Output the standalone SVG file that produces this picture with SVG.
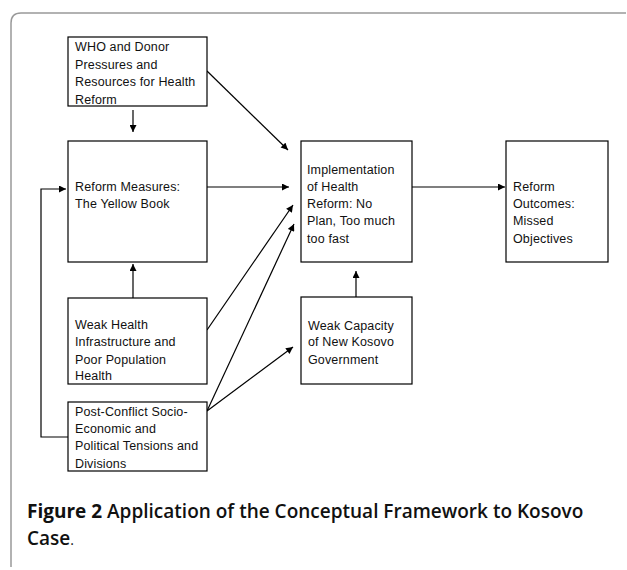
<svg xmlns="http://www.w3.org/2000/svg" width="627" height="570" viewBox="0 0 627 570">
<defs>
<marker id="ah" viewBox="0 0 10 10" refX="10" refY="5" markerWidth="8" markerHeight="7" markerUnits="userSpaceOnUse" orient="auto">
<path d="M0,0 L10,5 L0,10 z" fill="#000"/>
</marker>
<style>
.box{fill:#fff;stroke:#000;stroke-width:1.2}
.t{font-family:"Liberation Sans",Arial,sans-serif;font-size:12.5px;letter-spacing:0.15px;fill:#111}
.c{stroke:#000;stroke-width:1.2;fill:none;marker-end:url(#ah)}
.cap{font-family:"Open Sans","Liberation Sans",sans-serif;font-size:19px;fill:#111}
</style>
</defs>
<rect width="627" height="570" fill="#fff"/>
<path d="M626 13 H21 Q11 13 11 23 V567" fill="none" stroke="#999" stroke-width="1.5"/>
<g id="connectors">
<line class="c" x1="133" y1="110" x2="133" y2="132"/>
<line class="c" x1="207" y1="71" x2="288" y2="150"/>
<line class="c" x1="207" y1="187" x2="289" y2="187"/>
<line class="c" x1="207" y1="330" x2="293" y2="205"/>
<line class="c" x1="207" y1="411" x2="294" y2="224"/>
<line class="c" x1="207" y1="411" x2="293" y2="347"/>
<line class="c" x1="133" y1="298" x2="133" y2="264"/>
<line class="c" x1="356" y1="297" x2="356" y2="271"/>
<line class="c" x1="412" y1="187" x2="505" y2="187"/>
<path class="c" d="M68 437 H41 V189 H66"/>
</g>
<g id="who">
<rect class="box" x="68" y="37" width="139" height="69"/>
<text class="t" x="75" y="51">WHO and Donor</text>
<text class="t" x="75" y="68.5">Pressures and</text>
<text class="t" x="75" y="86">Resources for Health</text>
<text class="t" x="75" y="103.5">Reform</text>
</g>
<g id="measures">
<rect class="box" x="68" y="141" width="139" height="121"/>
<text class="t" x="75" y="191">Reform Measures:</text>
<text class="t" x="75" y="207.5">The Yellow Book</text>
</g>
<g id="implementation">
<rect class="box" x="301" y="141" width="111" height="121"/>
<text class="t" x="307" y="174">Implementation</text>
<text class="t" x="307" y="191">of Health</text>
<text class="t" x="307" y="207.5">Reform: No</text>
<text class="t" x="307" y="224.5">Plan, Too much</text>
<text class="t" x="307" y="242.5">too fast</text>
</g>
<g id="outcomes">
<rect class="box" x="506" y="141" width="102" height="121"/>
<text class="t" x="513" y="191">Reform</text>
<text class="t" x="513" y="207.5">Outcomes:</text>
<text class="t" x="513" y="224.5">Missed</text>
<text class="t" x="513" y="242.5">Objectives</text>
</g>
<g id="infrastructure">
<rect class="box" x="68" y="298" width="139" height="86"/>
<text class="t" x="75" y="328.5">Weak Health</text>
<text class="t" x="75" y="346">Infrastructure and</text>
<text class="t" x="75" y="363.5">Poor Population</text>
<text class="t" x="75" y="380">Health</text>
</g>
<g id="postconflict">
<rect class="box" x="68" y="402" width="139" height="69"/>
<text class="t" x="75" y="416">Post-Conflict Socio-</text>
<text class="t" x="75" y="432.5">Economic and</text>
<text class="t" x="75" y="450">Political Tensions and</text>
<text class="t" x="75" y="467.5">Divisions</text>
</g>
<g id="capacity">
<rect class="box" x="301" y="297" width="111" height="87"/>
<text class="t" x="308" y="329.5">Weak Capacity</text>
<text class="t" x="308" y="346">of New Kosovo</text>
<text class="t" x="308" y="363.5">Government</text>
</g>
<g id="caption">
<text class="cap" x="27" y="518"><tspan font-weight="700">Figure 2</tspan><tspan font-weight="600"> Application of the Conceptual Framework to Kosovo</tspan></text>
<text class="cap" x="27" y="545"><tspan font-weight="600">Case</tspan><tspan font-weight="400" font-size="14">.</tspan></text>
</g>
</svg>
